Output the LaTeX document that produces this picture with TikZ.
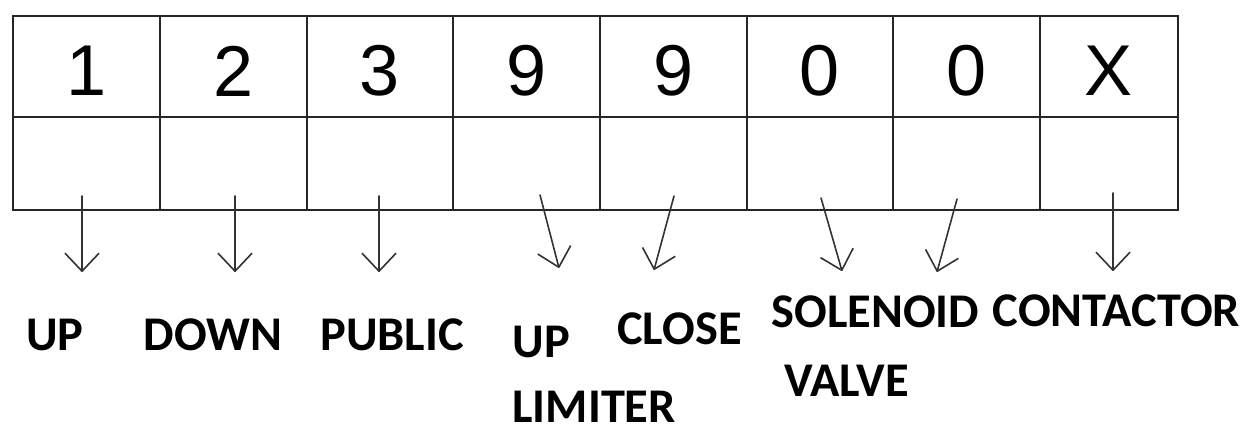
\documentclass[tikz,border=0pt]{standalone}
\usepackage{fontspec}
\usetikzlibrary{arrows.meta}
\newfontfamily\digitfont{Liberation Sans}
\newfontfamily\tagfont{Carlito}

\tikzset{
  cellline/.style = {line width=1.4pt, draw=black!85},
  digit/.style = {font=\digitfont\fontsize{36}{36}\selectfont, inner sep=0pt},
  tag/.style = {font=\tagfont\bfseries\fontsize{24.2}{24.2}\selectfont, inner sep=0pt},
  pointer/.style = {line width=0.8pt, draw=black!80, line cap=round,
    -{Straight Barb[length=9pt, width=17pt, line join=round]}}
}

\begin{document}
\begin{tikzpicture}[x=0.5pt, y=-0.5pt]
\useasboundingbox (0,0) rectangle (1251,428);
\draw[cellline] (13,16) rectangle (1178,210);
\draw[cellline] (13,117) -- (1178,117);
\foreach \x in {160,307,453,600,747,893,1040}
  \draw[cellline] (\x,16) -- (\x,210);

\path (86.5,71) node[digit] (d1) {1};
\path (233.5,71) node[digit] (d2) {2};
\path (380,71) node[digit] (d3) {3};
\path (526.5,71) node[digit] (d4) {9};
\path (673.5,71) node[digit] (d5) {9};
\path (820,71) node[digit] (d6) {0};
\path (966.5,71) node[digit] (d7) {0};
\path (1108,71) node[digit] (d8) {X};

\path (55,335) node[tag] (up) {UP};
\path (213,335) node[tag] (down) {DOWN};
\path (392,335) node[tag] (public) {PUBLIC};
\path (512,342) node[tag, anchor=west] (uplimA) {UP};
\path (512,407) node[tag, anchor=west] (uplimB) {LIMITER};
\path (679.5,329) node[tag] (close) {CLOSE};
\path (771,312) node[tag, anchor=west] (solA) {SOLENOID};
\path (784,381) node[tag, anchor=west] (solB) {VALVE};
\path (1116.5,311) node[tag] (contactor) {CONTACTOR};

\coordinate (s1) at (82,196);   \coordinate (e1) at (82,272);
\coordinate (s2) at (235,196);  \coordinate (e2) at (235,272);
\coordinate (s3) at (379,196);  \coordinate (e3) at (379,272);
\coordinate (s4) at (540,195);  \coordinate (e4) at (559,268);
\coordinate (s5) at (674,196);  \coordinate (e5) at (654,270);
\coordinate (s6) at (821,198);  \coordinate (e6) at (842,271);
\coordinate (s7) at (957,199);  \coordinate (e7) at (937,272);
\coordinate (s8) at (1113,193); \coordinate (e8) at (1113,271);
\draw[pointer] (s1) -- (e1);
\draw[pointer] (s2) -- (e2);
\draw[pointer] (s3) -- (e3);
\draw[pointer] (s4) -- (e4);
\draw[pointer] (s5) -- (e5);
\draw[pointer] (s6) -- (e6);
\draw[pointer] (s7) -- (e7);
\draw[pointer] (s8) -- (e8);
\end{tikzpicture}
\end{document}
